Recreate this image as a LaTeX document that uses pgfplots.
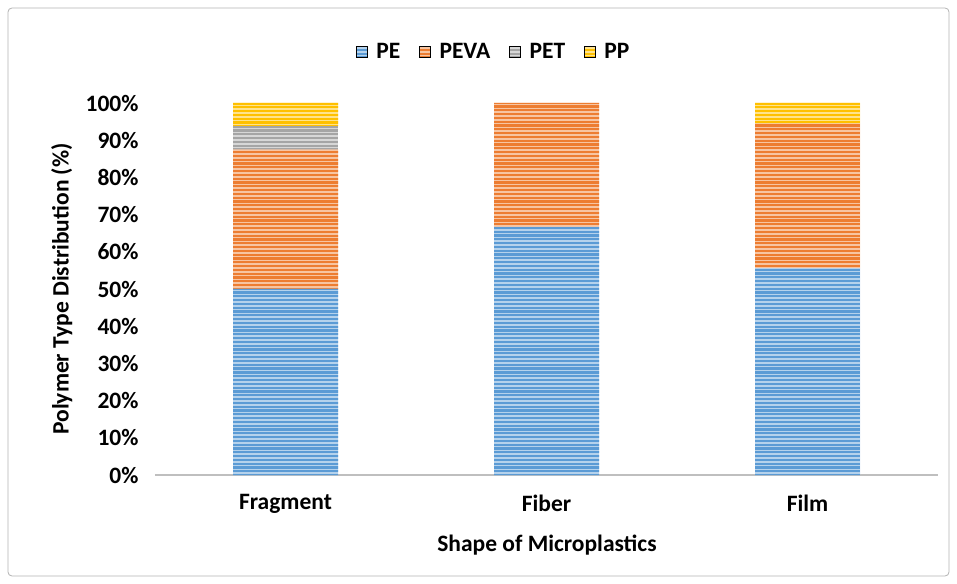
\documentclass[border=0pt]{standalone}
\usepackage{pgfplots}
\pgfplotsset{compat=1.18}
\usepackage{fontspec}
\setmainfont{Carlito}

\definecolor{cPE}{HTML}{5B9BD5}
\definecolor{cPEVA}{HTML}{ED7D31}
\definecolor{cPET}{HTML}{A5A5A5}
\definecolor{cPP}{HTML}{FFC000}

% Excel-like striped fill: light base with darker horizontal lines
\tikzset{
  striped/.style={
    fill=#1!45!white, draw=none,
    path picture={
      \pgfsetlinewidth{2.2pt}%
      \pgfsetstrokecolor{#1}%
      \foreach \k in {0,...,125}{%
        \pgfmathsetmacro\yy{\k*3.8}%
        \pgfpathmoveto{\pgfpointadd{\pgfpointanchor{path picture bounding box}{south west}}{\pgfpoint{0pt}{\yy pt}}}%
        \pgfpathlineto{\pgfpointadd{\pgfpointanchor{path picture bounding box}{south east}}{\pgfpoint{0pt}{\yy pt}}}%
      }%
      \pgfusepath{stroke}%
    }
  }
}

\begin{document}
\begin{tikzpicture}
% page and frame
\path (-155pt,-108pt) rectangle (802pt,475pt);
\draw[black!30, line width=0.8pt, rounded corners=4pt] (-147pt,-101pt) rectangle (794pt,467pt);

\begin{axis}[
    ybar stacked,
    scale only axis,
    width=783pt, height=372pt,
    at={(0,0)}, anchor=south west,
    bar width=105pt,
    xmin=-0.5, xmax=2.5,
    ymin=0, ymax=100,
    xtick=data,
    xticklabels={Fragment, Fiber, Film},
    ytick={0,10,...,100},
    yticklabel={\pgfmathprintnumber{\tick}\%},
    /pgf/number format/assume math mode=true,
    axis x line*=bottom,
    axis y line*=left,
    y axis line style={draw=none},
    x axis line style={draw=black!25, line width=1.5pt},
    major tick length=0pt,
    tick style={draw=none},
    tick label style={font=\fontsize{23.5}{27}\selectfont\bfseries},
    xticklabel style={yshift=-16pt},
    yticklabel style={xshift=-13pt},
    label style={font=\fontsize{23.5}{27}\selectfont\bfseries},
    xlabel={Shape of Microplastics},
    ylabel={Polymer Type Distribution (\%)},
    xlabel style={at={(axis description cs:0.5006,-0.188)}, anchor=center},
    ylabel style={at={(axis description cs:-0.119,0.5)}, anchor=center},
    legend style={
        legend columns=4,
        at={(0.432,1.137)}, anchor=center,
        draw=none,
        font=\fontsize{23.5}{27}\selectfont\bfseries,
        /tikz/every odd column/.append style={column sep=6pt},
        /tikz/every even column/.append style={column sep=16pt},
    },
    legend image code/.code={
        \draw[#1] (0pt,-5.5pt) rectangle (11pt,5.5pt);
    },
]
% PE
\addplot[striped=cPE] coordinates {(0,50) (1,66.7) (2,55.6)};
% PEVA
\addplot[striped=cPEVA] coordinates {(0,37.5) (1,33.3) (2,38.9)};
% PET
\addplot[striped=cPET] coordinates {(0,6.25) (1,0) (2,0)};
% PP
\addplot[striped=cPP] coordinates {(0,6.25) (1,0) (2,5.5)};
\legend{PE, PEVA, PET, PP}
\end{axis}
\end{tikzpicture}
\end{document}
